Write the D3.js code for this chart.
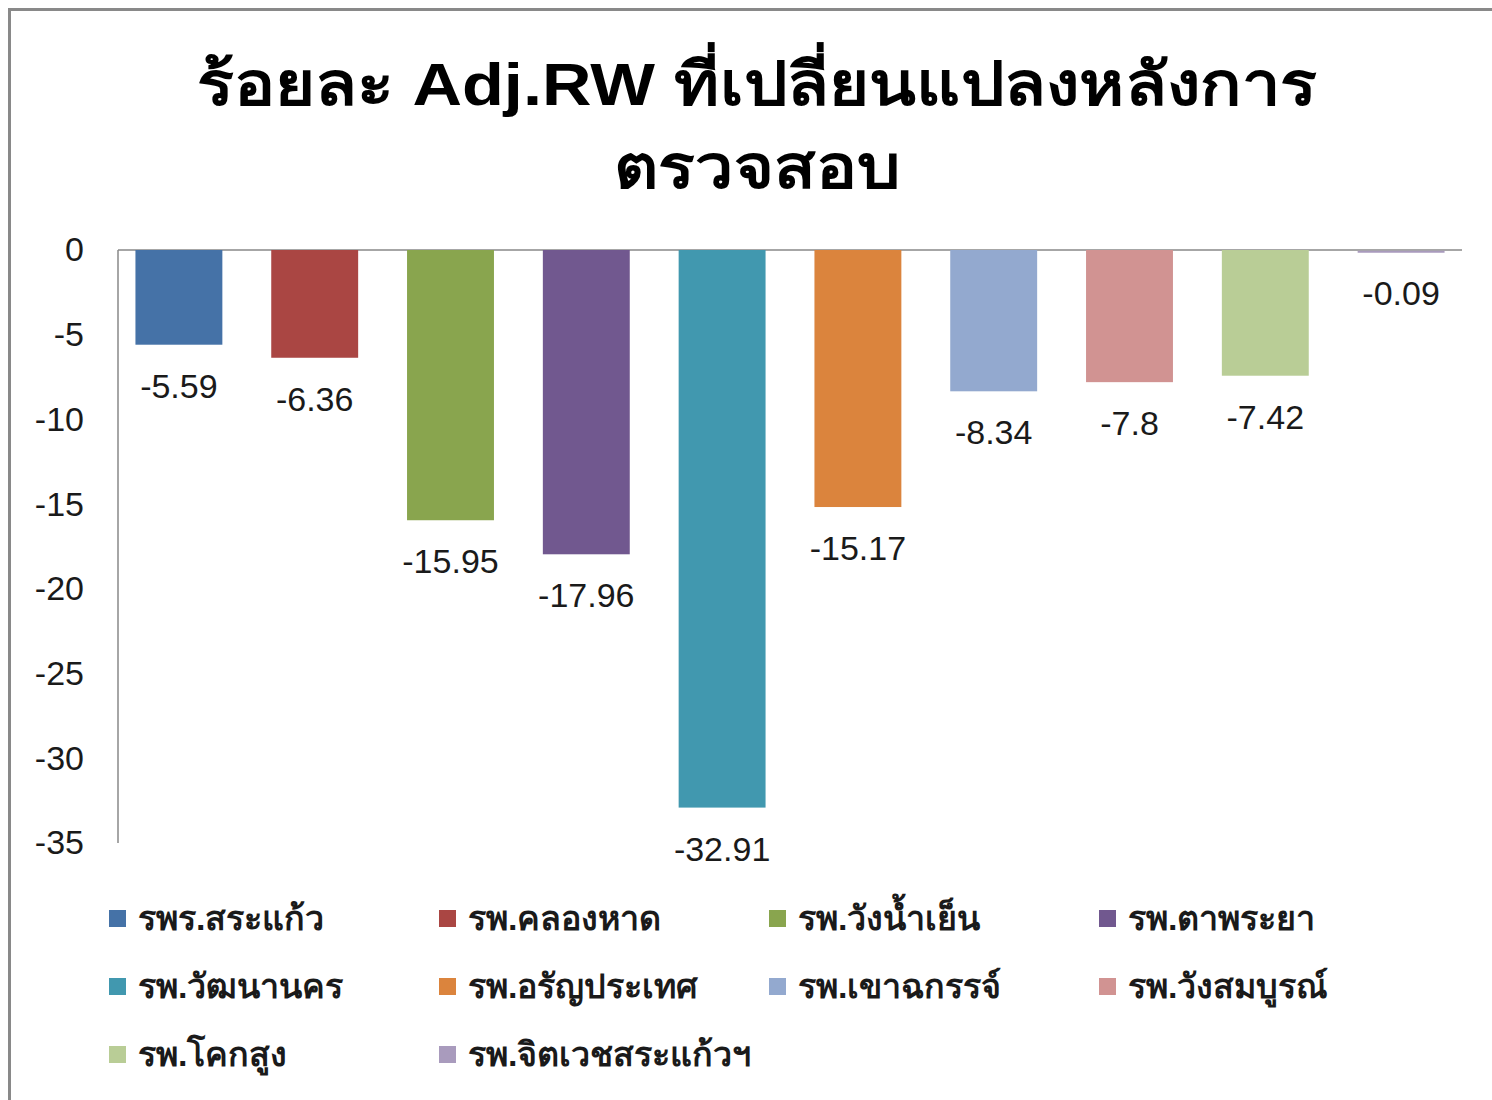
<!DOCTYPE html>
<html><head><meta charset="utf-8">
<script src="https://cdn.jsdelivr.net/npm/d3@7"></script>
<style>
html,body{margin:0;padding:0;background:#fff;overflow:hidden}
</style></head>
<body>
<svg id="chart" width="1492" height="1100"></svg>
<script>
const categories = ["รพร.สระแก้ว","รพ.คลองหาด","รพ.วังน้ำเย็น","รพ.ตาพระยา","รพ.วัฒนานคร","รพ.อรัญประเทศ","รพ.เขาฉกรรจ์","รพ.วังสมบูรณ์","รพ.โคกสูง","รพ.จิตเวชสระแก้วฯ"];
const values = [-5.59,-6.36,-15.95,-17.96,-32.91,-15.17,-8.34,-7.8,-7.42,-0.09];
const valueLabels = ["-5.59","-6.36","-15.95","-17.96","-32.91","-15.17","-8.34","-7.8","-7.42","-0.09"];
const colors = ["#4572A7","#AA4643","#89A54E","#71588F","#4198AF","#DB843D","#93A9CF","#D19392","#B9CD96","#A99BBD"];
const yTicks = [0,-5,-10,-15,-20,-25,-30,-35];
const titleLines = ["ร้อยละ Adj.RW ที่เปลี่ยนแปลงหลังการ","ตรวจสอบ"];

const svg = d3.select("#chart");
const font = "'Liberation Sans', 'Noto Sans', Tahoma, sans-serif";

// outer border
svg.append("rect").attr("x",9.5).attr("y",9.5).attr("width",1600).attr("height",1200)
  .attr("fill","#fff").attr("stroke","#898989").attr("stroke-width",3);

// title
const titleWidths = [1120, 286];
svg.append("g").selectAll("text").data(titleLines).join("text")
  .attr("x",757).attr("y",(d,i)=>105+i*83)
  .attr("text-anchor","middle").attr("font-family",font).attr("font-weight","bold")
  .attr("font-size",60).attr("fill","#000")
  .attr("textLength",(d,i)=>titleWidths[i]).attr("lengthAdjust","spacingAndGlyphs")
  .text(d=>d);

const x = d3.scaleBand().domain(categories).range([111,1469]).paddingInner(0.36).paddingOuter(0.18);
const y = d3.scaleLinear().domain([-35,0]).range([843,250]);

// zero line & y axis line
svg.append("line").attr("x1",118).attr("x2",1462).attr("y1",y(0)).attr("y2",y(0))
  .attr("stroke","#898989").attr("stroke-width",1.5);
svg.append("line").attr("x1",118).attr("x2",118).attr("y1",y(0)).attr("y2",y(-35))
  .attr("stroke","#898989").attr("stroke-width",1.5);

// bars
svg.append("g").selectAll("rect").data(values).join("rect")
  .attr("x",(d,i)=>x(categories[i]))
  .attr("width",x.bandwidth())
  .attr("y",d=> (y(d)-y(0) < 3) ? y(0)+0.75 : y(0))
  .attr("height",d=>Math.max(2,y(d)-y(0)))
  .attr("fill",(d,i)=>colors[i]);

// y tick labels
const yAxis = d3.axisLeft(y).tickValues(yTicks).tickSize(0).tickPadding(34).tickFormat(d=>String(d));
const ga = svg.append("g").attr("transform","translate(118,0)").call(yAxis);
ga.select(".domain").remove();
ga.selectAll("text").attr("font-family",font).attr("font-size",34).attr("fill","#1a1a1a");

// value labels
svg.append("g").selectAll("text").data(values).join("text")
  .attr("x",(d,i)=>x(categories[i])+x.bandwidth()/2)
  .attr("y",d=>y(d)+53)
  .attr("text-anchor","middle").attr("font-family",font).attr("font-size",34).attr("fill","#1a1a1a")
  .text((d,i)=>valueLabels[i]);

// legend
const lg = svg.append("g");
const items = lg.selectAll("g").data(categories).join("g")
  .attr("transform",(d,i)=>`translate(${109+(i%4)*330},${918+Math.floor(i/4)*68})`);
items.append("rect").attr("x",0).attr("y",-8).attr("width",17).attr("height",17)
  .attr("fill",(d,i)=>colors[i]);
items.append("text").attr("x",29).attr("y",12).attr("font-family",font).attr("font-weight","bold")
  .attr("font-size",34).attr("fill","#1a1a1a").text(d=>d);
</script>
</body></html>
